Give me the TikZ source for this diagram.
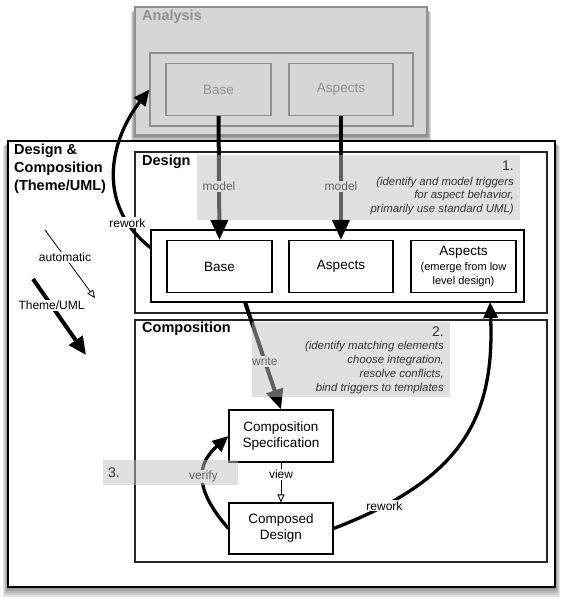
\documentclass[tikz,border=0pt]{standalone}
\usepackage{fontspec}
\setmainfont{Liberation Sans}
\usetikzlibrary{arrows.meta}

\begin{document}
\begin{tikzpicture}[x=1pt, y=-1pt,
		box/.style= {draw, line width=1.1pt, minimum width=105pt, minimum height=52pt, align= center, font= \fontsize{13.5}{16}\selectfont},
		frame/.style= {draw= black!85, line width=1.3pt},
		header/.style= {font= \fontsize{14.5}{18}\bfseries, anchor= west, inner sep= 0pt},
		lbl/.style= {fill= white, inner sep= 1pt, font= \fontsize{12}{14}\selectfont},
		heavy/.style= {line width=3.3pt, -{Triangle[length=16pt, width=14pt]}},
		flow/.style= {line width=4pt, -{Triangle[length=20pt, width=17pt]}},
		light/.style= {line width=0.8pt, -{Triangle[open, length=8pt, width=7pt]}},
		shade/.style= {fill= black!24, fill opacity= 0.5},
		steptext/.style= {font= \fontsize{11.4}{13.8}\itshape, align= right, text= black!80, inner sep= 0pt},
		stepnum/.style= {font= \fontsize{14}{16}\selectfont, text= black!80, inner sep= 0pt}]

	\useasboundingbox (0,0) rectangle (566,605);

	\foreach \s in {1,...,5}
		\fill[black, fill opacity= 0.1] (8-\s,141+\s) rectangle (555+\s,587+2*\s);
	\draw[fill= white, line width=1.8pt] (8,141) rectangle (555,587);
	\node (dc) at (14,169) [header, align= left] {Design \&\\ Composition\\ (Theme/UML)};

	\foreach \s in {1,...,4}
		\fill[black, fill opacity= 0.13] (135-\s,8+\s) rectangle (427+\s,135+1.5*\s);
	\draw[fill= white, line width=1.2pt] (135,7) rectangle (427,135);
	\node (ainner) at (281.5,89.5) [draw, line width=1.1pt, minimum width=263pt, minimum height=73pt] {};
	\node (abase) at (218.5,89.5) [box] {Base};
	\node (aasp) at (341,89.5) [box, minimum width=104pt] {Aspects};
	\node (ana) at (142,17) [header] {Analysis};
	\fill[black!22, fill opacity= 0.72] (134.2,6.2) rectangle (427.8,135.8);

	\draw[frame] (135,152) rectangle (547,313);
	\draw[frame] (135,320) rectangle (547,562);
	\node (des) at (142,162) [header] {Design};
	\node (comp) at (142,329) [header] {Composition};

	\node (dinner) at (337.5,266) [draw, line width=1.2pt, minimum width=373pt, minimum height=72pt] {};
	\node (dbase) at (219.5,266.5) [box] {Base};
	\node (dasp) at (341,266.5) [box, minimum width=104pt] {Aspects};
	\node (demerge) at (463.5,266.5) [box, font= \fontsize{11}{14.5}\selectfont] {{\fontsize{13.5}{14.5}\selectfont Aspects}\\ (emerge from low\\ level design)};
	\node (cspec) at (281,436) [box, minimum width=104pt] {Composition\\ Specification};
	\node (cdes) at (281,528.5) [box, minimum width=104pt, minimum height=51pt] {Composed\\ Design};

	\coordinate (rwup) at (151,248);
	\coordinate (wrstart) at (245,302);
	\coordinate (rwdown) at (490,302);
	\coordinate (autostart) at (45,230);
	\coordinate (autoend) at (95,298);
	\coordinate (umlstart) at (33,279);
	\coordinate (umlend) at (86,355);

	\draw[flow] (abase.south) -- node[lbl, pos= 0.57] (mbase) {model} (dbase.north);
	\draw[flow] (aasp.south) -- node[lbl, pos= 0.57] (masp) {model} (dasp.north);
	\draw[flow] (wrstart) -- node[lbl, pos= 0.55] (wr) {write} (cspec.north);
	\draw[heavy] (cdes.west) .. controls (192,487) and (198,463) .. node[lbl, pos= 0.5] (ver) {verify} (cspec.west);
	\draw[light] (cspec.south) -- node[lbl, pos= 0.3] (vw) {view} (cdes.north);
	\draw[heavy] (cdes.east) .. controls (460,480) and (495,420) .. node[lbl, pos= 0.15] (rwb) {rework} (rwdown);
	\draw[heavy] (rwup) .. controls (95,205) and (110,140) .. node[lbl, pos= 0.18] (rwt) {rework} (ainner.west);

	\draw[light] (autostart) -- node[lbl, pos= 0.4] (auto) {automatic} (autoend);
	\draw[line width=4pt, -{Triangle[length=18pt, width=16pt]}] (umlstart) -- node[lbl, pos= 0.35] (uml) {Theme/UML} (umlend);

	\fill[shade] (197,155) rectangle (520,220);
	\fill[shade] (252,322) rectangle (450,397);
	\fill[shade] (103,460) rectangle (238,485);

	\node (num1) at (514,166) [stepnum, anchor= east] {1.};
	\node (txt1) at (514,196) [steptext, anchor= east] {(identify and model triggers\\ for aspect behavior,\\ primarily use standard UML)};
	\node (num2) at (444,332) [stepnum, anchor= east] {2.};
	\node (txt2) at (444,367.5) [steptext, anchor= east] {(identify matching elements\\ choose integration,\\ resolve conflicts,\\ bind triggers to templates};
	\node (num3) at (108,473) [stepnum, anchor= west] {3.};
\end{tikzpicture}
\end{document}
